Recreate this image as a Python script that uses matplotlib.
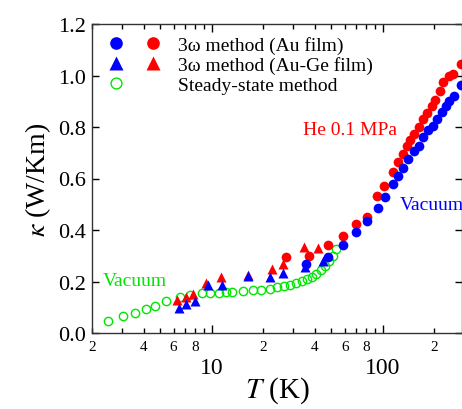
import numpy as np
import matplotlib
matplotlib.use("Agg")
from matplotlib import pyplot as plt
from matplotlib.ticker import FixedLocator, FuncFormatter, LogLocator
from matplotlib.legend_handler import HandlerTuple
from matplotlib.lines import Line2D

plt.rcParams['font.family'] = ['Liberation Serif', 'DejaVu Serif']
plt.rcParams['mathtext.fontset'] = 'stix'

# steady-state method (green open circles)
T_ss = [2.48, 3.03, 3.59, 4.11, 4.66, 5.43, 6.50, 7.44, 8.74, 9.83, 11.0, 12.2, 13.1,
        15.2, 17.4, 19.5, 21.8, 24.0, 26.4, 28.8, 31.2, 33.6, 35.9, 38.5, 40.9,
        43.4, 45.8, 48.3, 51.0, 53.6]
k_ss = [0.048, 0.065, 0.078, 0.093, 0.106, 0.123, 0.140, 0.149, 0.154, 0.155, 0.155, 0.158, 0.160,
        0.162, 0.166, 0.168, 0.172, 0.177, 0.181, 0.188, 0.193, 0.201, 0.209, 0.219, 0.230,
        0.245, 0.260, 0.280, 0.300, 0.326]

# 3w method, Au film, He 0.1 MPa (red circles)
T_au_he = [27.1, 37.1, 47.9, 58.6, 69.5, 80.3, 91.9, 101.8, 114, 123, 131.5, 137.6, 143.9,
           151.8, 163, 172, 181.6, 192.7, 201.4, 215.4, 225.3, 244.3, 257.8, 284.6]
k_au_he = [0.296, 0.298, 0.342, 0.375, 0.423, 0.452, 0.531, 0.572, 0.626, 0.663, 0.695, 0.727, 0.750,
           0.773, 0.799, 0.831, 0.854, 0.883, 0.906, 0.941, 0.974, 0.999, 1.006, 1.045]

# 3w method, Au film, vacuum (blue circles)
T_au_vac = [35.5, 47.9, 58.6, 69.5, 80.9, 93.1, 102.8, 114, 123, 131.5, 140.6, 151.8, 163,
            172, 184, 195.3, 206, 220.3, 233.5, 244.3, 260, 284.6]
k_au_vac = [0.268, 0.294, 0.342, 0.393, 0.436, 0.485, 0.529, 0.579, 0.608, 0.640, 0.676, 0.708, 0.727,
            0.760, 0.790, 0.803, 0.831, 0.857, 0.880, 0.902, 0.922, 0.963]

# 3w method, Au-Ge film, He (red triangles)
T_auge_he = [6.27, 7.05, 7.78, 9.23, 11.4, 16.3, 22.6, 26.1, 34.5, 41.9]
k_auge_he = [0.129, 0.139, 0.151, 0.194, 0.216, 0.227, 0.249, 0.267, 0.333, 0.330]

# 3w method, Au-Ge film, vacuum (blue triangles)
T_auge_vac = [6.44, 7.05, 7.95, 9.51, 11.55, 16.3, 22.0, 26.1, 35.0, 44.8]
k_auge_vac = [0.097, 0.113, 0.125, 0.186, 0.186, 0.220, 0.216, 0.233, 0.256, 0.281]

red = '#ff0000'
blue = '#0000ff'
green = '#00e600'

fig = plt.figure(figsize=(4.62, 4.10), dpi=100)
ax = fig.add_axes([92/462, 76/410, 1 - 92/462, (334-25)/410])

ss, = ax.plot(T_ss, k_ss, 'o', ms=6, mfc='none', mec=green, mew=1.0, ls='none')
rt, = ax.plot(T_auge_he, k_auge_he, '^', ms=7.5, color=red, mec='none', ls='none')
bt, = ax.plot(T_auge_vac, k_auge_vac, '^', ms=7.5, color=blue, mec='none', ls='none')
rc, = ax.plot(T_au_he, k_au_he, 'o', ms=7, color=red, mec='none', ls='none')
bc, = ax.plot(T_au_vac, k_au_vac, 'o', ms=7, color=blue, mec='none', ls='none')

ax.set_xscale('log')
ax.set_xlim(2, 290)
ax.set_ylim(0, 1.2)

# x ticks: 10, 100 large; 2,4,6,8 small
ax.xaxis.set_major_locator(FixedLocator([10, 100]))
ax.xaxis.set_major_formatter(FuncFormatter(lambda v, p: '%g' % v))
ax.xaxis.set_minor_locator(LogLocator(base=10, subs=np.arange(2, 10)))

def minor_fmt(v, p):
    m = v / 10 ** np.floor(np.log10(v) + 1e-9)
    if round(m) in (2, 4, 6, 8) and abs(m - round(m)) < 1e-6:
        return '%d' % round(m)
    return ''

ax.xaxis.set_minor_formatter(FuncFormatter(minor_fmt))
ax.set_yticks(np.arange(0, 1.21, 0.2))
ax.yaxis.set_major_formatter(FuncFormatter(lambda v, p: '%.1f' % v))

ax.tick_params(which='both', direction='in', top=True, right=True)
ax.tick_params(axis='x', which='major', length=6, width=1, labelsize=17, pad=17)
ax.tick_params(axis='x', which='minor', length=3.5, width=1, labelsize=11, pad=5)
ax.tick_params(axis='y', which='major', length=5, width=1, labelsize=16, pad=4)
for s in ax.spines.values():
    s.set_linewidth(1.0)
    s.set_color('#333333')

ax.set_xlabel('$T$ (K)', fontsize=21, labelpad=-2)
ax.set_ylabel(r'$\kappa$ (W/Km)', fontsize=20, labelpad=4)

ax.text(34, 0.792, 'He 0.1 MPa', color=red, fontsize=14, ha='left', va='center')
ax.text(125, 0.50, 'Vacuum', color=blue, fontsize=14, ha='left', va='center')
ax.text(2.3, 0.205, 'Vacuum', color=green, fontsize=14, ha='left', va='center')

blank = Line2D([], [], ls='none', marker='none')
leg = ax.legend([(bc, rc), (bt, rt), (ss, blank)],
                ['3\u03c9 method (Au film)', '3\u03c9 method (Au-Ge film)', 'Steady-state method'],
                handler_map={tuple: HandlerTuple(ndivide=None, pad=0.6)},
                loc='upper left', bbox_to_anchor=(0.0, 1.0), frameon=False, fontsize=14,
                handlelength=3.2, handletextpad=0.6, labelspacing=0.12, markerscale=1.3,
                borderaxespad=0.2)

fig.savefig('out.png', dpi=100)
